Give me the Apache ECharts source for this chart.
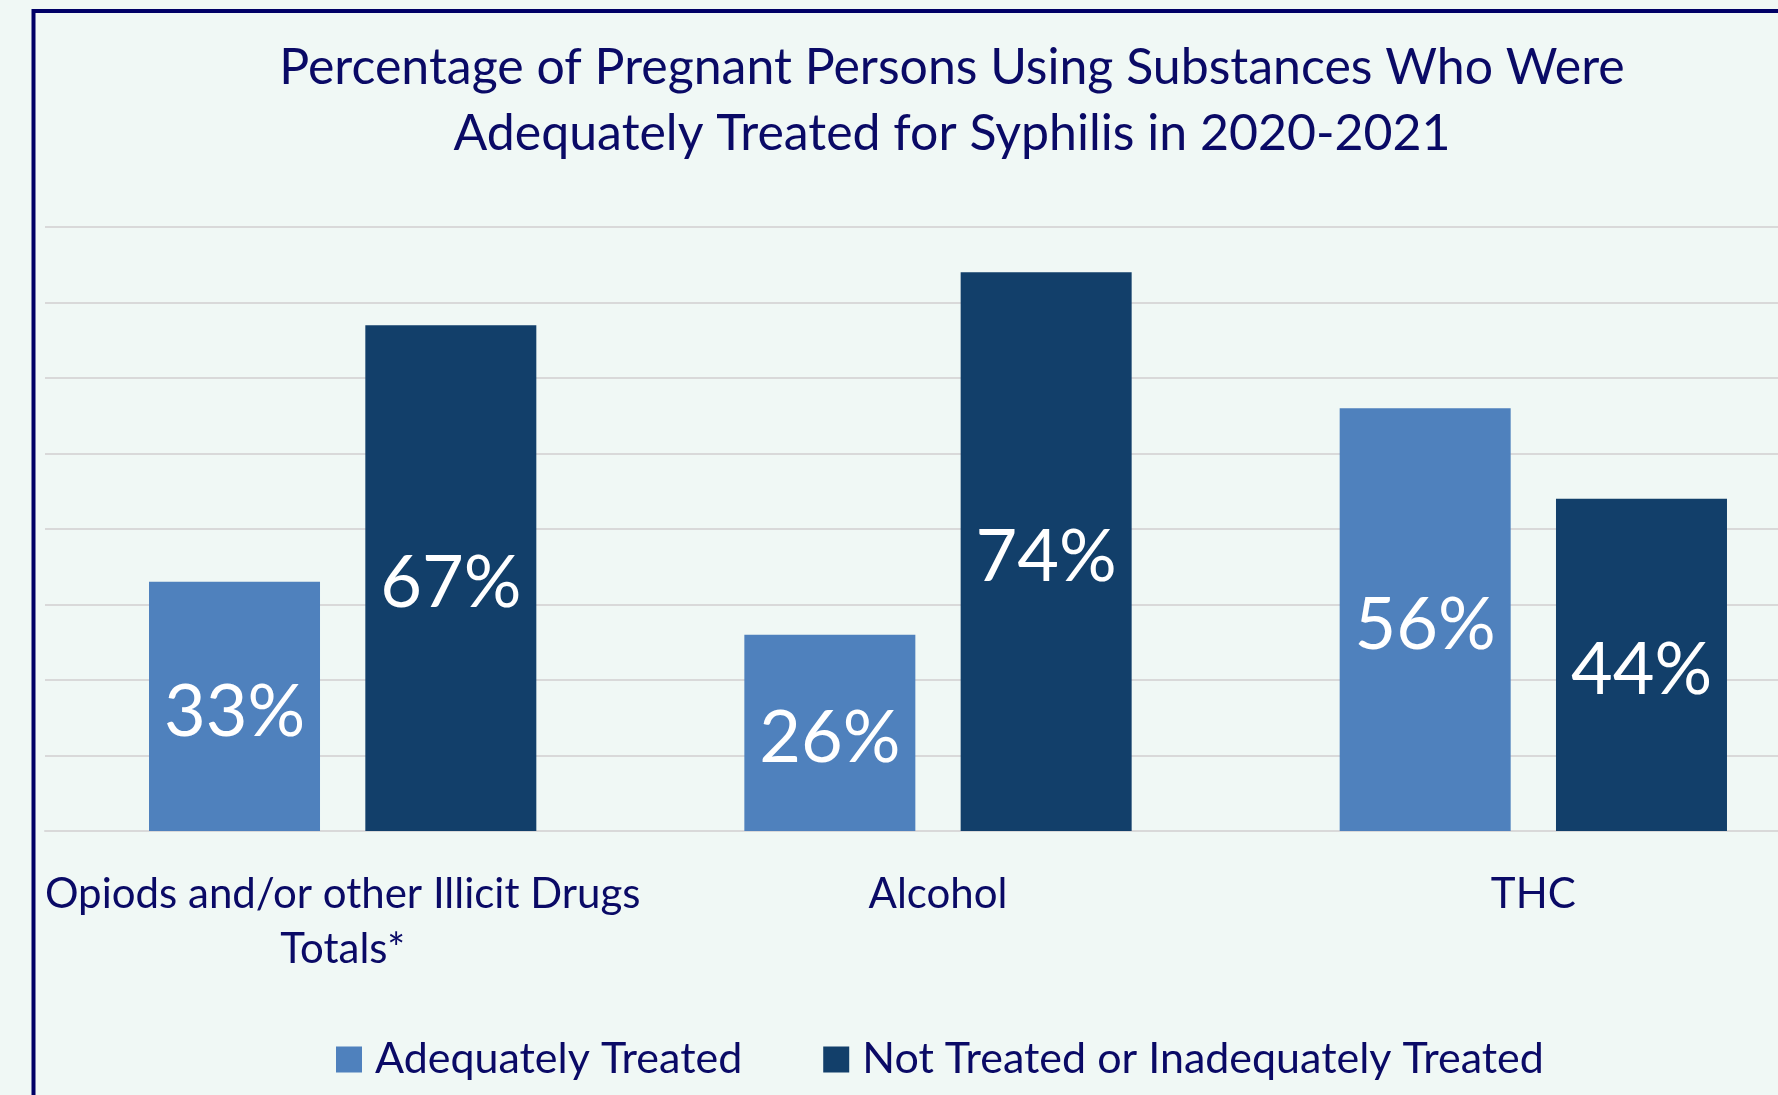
<!DOCTYPE html>
<html>
<head>
<meta charset="utf-8">
<script src="https://cdn.jsdelivr.net/npm/echarts@6/dist/echarts.min.js"></script>
<style>
html,body{margin:0;padding:0;background:#F0F8F5;}
#c{width:1778px;height:1095px;}
</style>
</head>
<body>
<div id="c"></div>
<script>
const titleLines = ['Percentage of Pregnant Persons Using Substances Who Were', 'Adequately Treated for Syphilis in 2020-2021'];
const categories = ['Opiods and/or other Illicit Drugs\nTotals*', 'Alcohol', 'THC'];
const seriesNames = ['Adequately Treated', 'Not Treated or Inadequately Treated'];
const adequatelyTreated = [33, 26, 56];
const notTreated = [67, 74, 44];

const FONT = 'Lato';
const NAVY = '#0A0A66';
const chart = echarts.init(document.getElementById('c'));
chart.setOption({
  backgroundColor: '#F0F8F5',
  animation: false,
  textStyle: { fontFamily: FONT },
  title: {
    text: titleLines.join('\n'),
    left: 947,
    top: 30,
    textAlign: 'center',
    textStyle: { fontFamily: FONT, fontSize: 50, fontWeight: 'normal', color: NAVY, lineHeight: 66 }
  },
  graphic: [{
    type: 'rect',
    shape: { x: 33.5, y: 11, width: 3000, height: 3000 },
    style: { fill: 'none', stroke: '#000066', lineWidth: 4 },
    silent: true
  }],
  legend: {
    left: 331,
    top: 1057 - 24,
    itemWidth: 26,
    itemHeight: 26,
    itemGap: 81,
    icon: 'rect',
    textStyle: { fontFamily: FONT, fontSize: 43, color: NAVY, padding: [0, 0, 0, 8] },
    data: seriesNames
  },
  grid: { left: 45, width: 1786, top: 227, bottom: 264, containLabel: false, outerBoundsMode: 'none' },
  xAxis: {
    type: 'category',
    data: categories,
    axisLine: { show: true, lineStyle: { color: '#D9D9D9', width: 2 } },
    axisTick: { show: false },
    axisLabel: { fontFamily: FONT, fontSize: 42, color: NAVY, lineHeight: 55, margin: 36, interval: 0 }
  },
  yAxis: {
    type: 'value',
    min: 0,
    max: 80,
    interval: 10,
    axisLabel: { show: false },
    axisLine: { show: false },
    axisTick: { show: false },
    splitLine: { lineStyle: { color: '#D9D9D9', width: 2 } }
  },
  series: [
    {
      name: seriesNames[0],
      type: 'bar',
      data: adequatelyTreated,
      barWidth: 171,
      barGap: '26.5%',
      itemStyle: { color: '#4F81BD' },
      label: { show: true, position: 'inside', offset: [0, 6], formatter: '{c}%', color: '#FFFFFF', fontFamily: FONT, fontSize: 72 }
    },
    {
      name: seriesNames[1],
      type: 'bar',
      data: notTreated,
      barWidth: 171,
      barGap: '26.5%',
      itemStyle: { color: '#123F6A' },
      label: { show: true, position: 'inside', offset: [0, 6], formatter: '{c}%', color: '#FFFFFF', fontFamily: FONT, fontSize: 72 }
    }
  ]
});
</script>
</body>
</html>
